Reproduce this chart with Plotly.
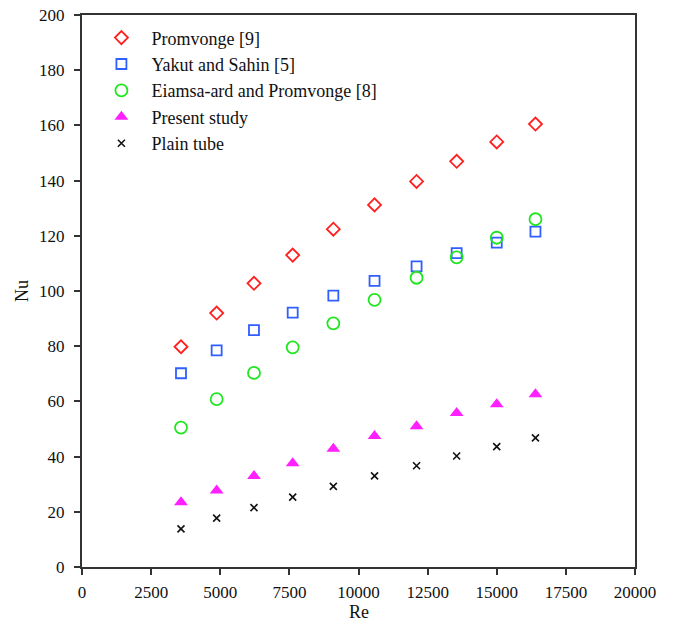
import plotly.graph_objects as go

# Reynolds numbers of the test runs
re_values = [3580, 4870, 6220, 7620, 9090, 10580, 12100, 13550, 15000, 16400]

# Nusselt numbers for each correlation / data set
nu_promvonge = [79.8, 92.0, 102.8, 113.0, 122.4, 131.2, 139.7, 147.0, 154.0, 160.5]
nu_yakut_sahin = [70.2, 78.5, 85.8, 92.2, 98.3, 103.7, 108.9, 113.7, 117.5, 121.5]
nu_eiamsa_ard = [50.5, 60.8, 70.3, 79.6, 88.3, 96.8, 104.8, 112.2, 119.3, 126.0]
nu_present = [23.5, 27.7, 33.0, 37.6, 42.8, 47.5, 51.0, 55.8, 59.0, 62.6]
nu_plain = [13.8, 17.7, 21.5, 25.3, 29.2, 33.0, 36.7, 40.2, 43.6, 46.8]

x_ticks = [0, 2500, 5000, 7500, 10000, 12500, 15000, 17500, 20000]
y_ticks = list(range(0, 201, 20))

series = [
    ("Promvonge [9]", nu_promvonge,
     dict(symbol="diamond-open", size=10, color="#ff1f1f", line=dict(width=1.8))),
    ("Yakut and Sahin [5]", nu_yakut_sahin,
     dict(symbol="square-open", size=10, color="#2f5fff", line=dict(width=1.8))),
    ("Eiamsa-ard and Promvonge [8]", nu_eiamsa_ard,
     dict(symbol="circle-open", size=12, color="#1fe61f", line=dict(width=1.8))),
    ("Present study", nu_present,
     dict(symbol="triangle-up", size=12, color="#ff1fff", line=dict(width=0))),
    ("Plain tube", nu_plain,
     dict(symbol="x-thin", size=7, color="#111111", line=dict(width=1.6, color="#111111"))),
]

fig = go.Figure()
for name, ys, marker in series:
    fig.add_trace(go.Scatter(x=re_values, y=ys, mode="markers", name=name, marker=marker))

font_family = "Liberation Serif, Times New Roman, serif"
axis_style = dict(
    showline=True, linecolor="#333333", linewidth=2, mirror=True,
    ticks="outside", ticklen=6, tickwidth=2, tickcolor="#333333",
    showgrid=False, zeroline=False, automargin=False,
    tickfont=dict(family=font_family, size=17, color="#111111"),
)

fig.update_layout(
    width=673, height=621,
    margin=dict(l=82, r=38, t=15, b=54),
    paper_bgcolor="white", plot_bgcolor="white",
    font=dict(family=font_family, size=17, color="#111111"),
    xaxis=dict(range=[0, 20000], tickvals=x_ticks, tickformat="d", ticklabelstandoff=3,
               **axis_style),
    yaxis=dict(range=[0, 200], tickvals=y_ticks, tickformat="d", ticklabelstandoff=6,
               **axis_style),
    legend=dict(x=0.017, y=0.992, xanchor="left", yanchor="top",
                bgcolor="rgba(0,0,0,0)", font=dict(size=18, family=font_family),
                itemwidth=50, tracegroupgap=0),
    showlegend=True,
    annotations=[
        dict(text="Re", xref="paper", yref="paper", x=0.5, y=-0.0815,
             xanchor="center", yanchor="middle", showarrow=False, font=dict(size=18)),
        dict(text="Nu", xref="paper", yref="paper", x=-0.1085, y=0.5, textangle=-90,
             xanchor="center", yanchor="middle", showarrow=False, font=dict(size=18)),
    ],
)

fig.write_html("out.html")
